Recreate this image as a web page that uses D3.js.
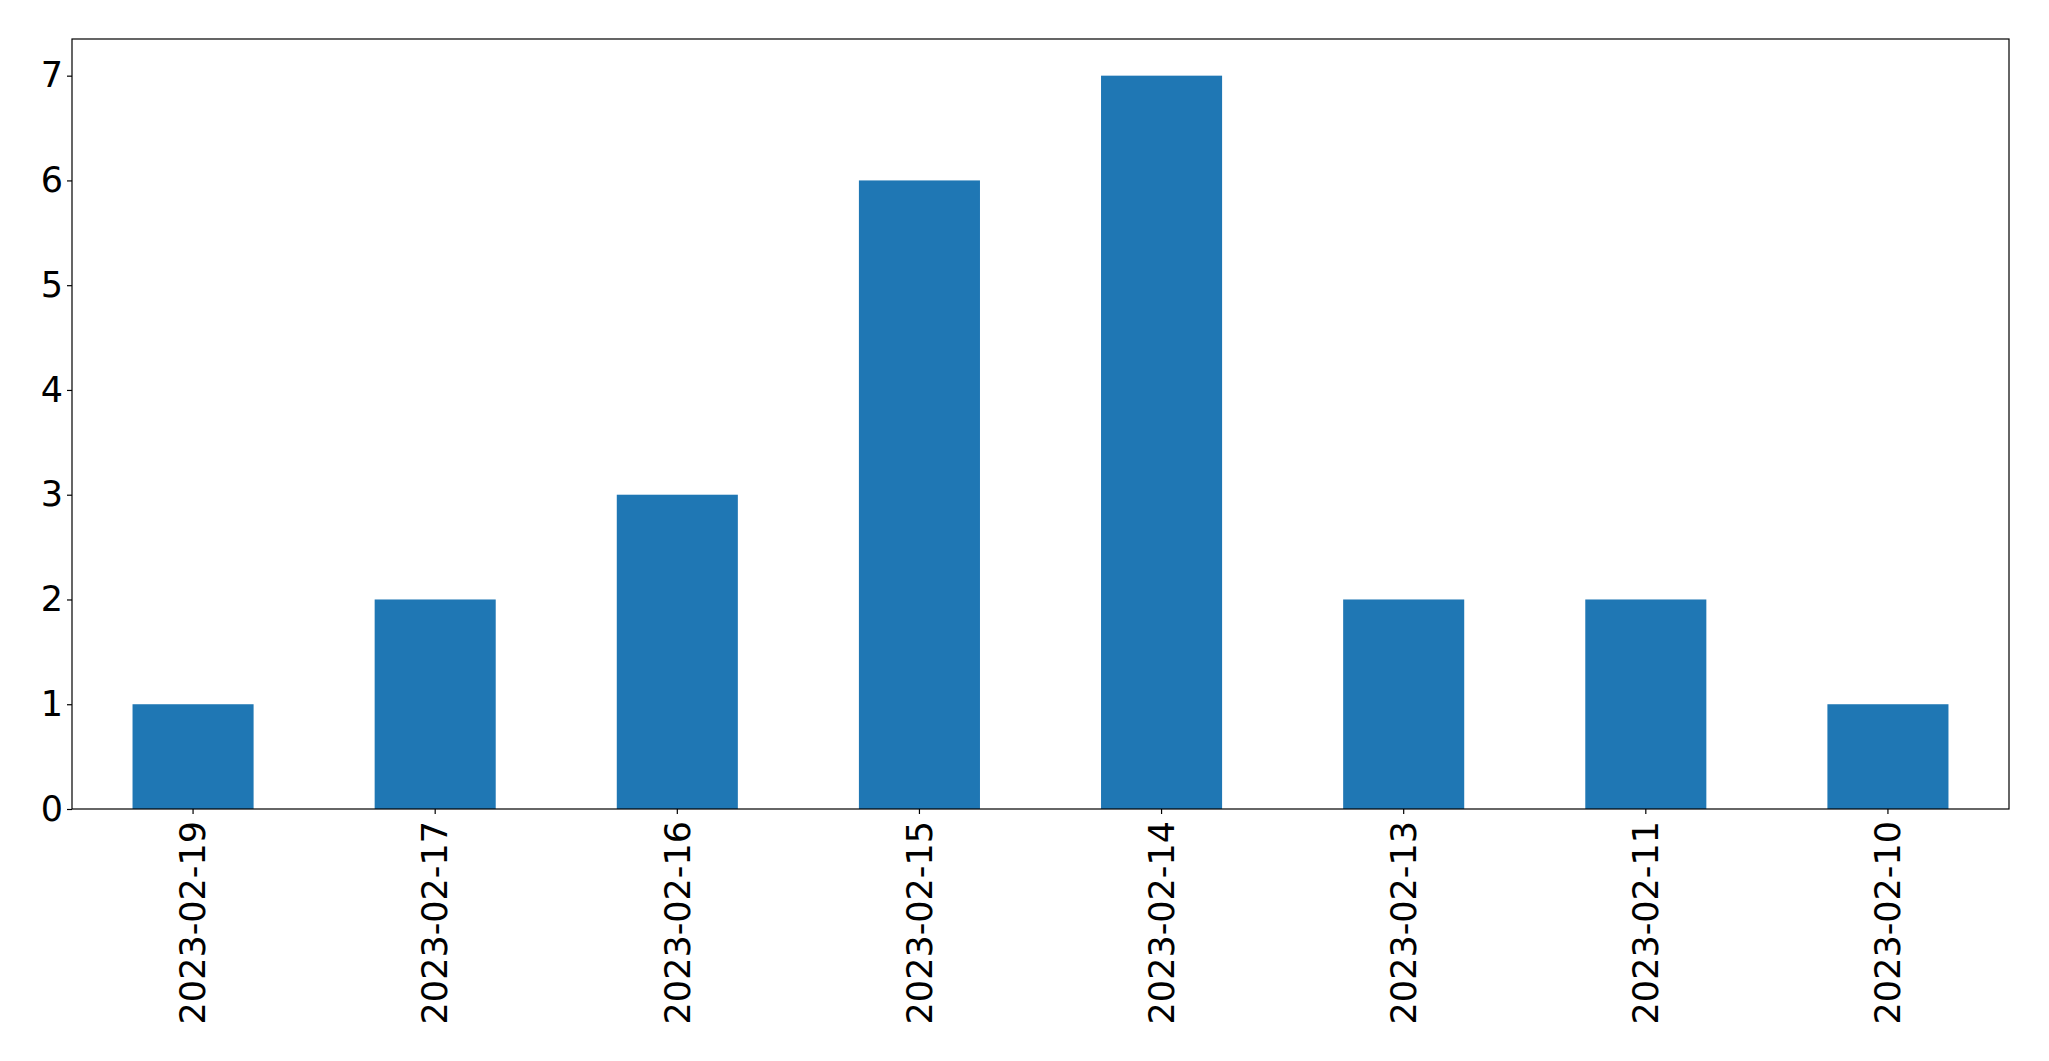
<!DOCTYPE html>
<html><head><meta charset="utf-8">
<script src="https://cdn.jsdelivr.net/npm/d3@7"></script>
<style>body{margin:0;background:#fff;} svg{display:block;}</style>
</head><body>
<svg id="c" width="2049" height="1061"></svg>
<script>
const categories = ["2023-02-19","2023-02-17","2023-02-16","2023-02-15","2023-02-14","2023-02-13","2023-02-11","2023-02-10"];
const values = [1,2,3,6,7,2,2,1];
const yTicks = [0,1,2,3,4,5,6,7];

const W = 2049, H = 1061;
const m = {left:72, right:2009, top:39, bottom:809};
const svg = d3.select("#c");
const font = "DejaVu Sans";
const fs = 35;

const x = d3.scaleBand().domain(categories).range([m.left, m.right]).paddingInner(0.5).paddingOuter(0.25);
const ymax = d3.max(values) * 1.05;
const y = d3.scaleLinear().domain([0, ymax]).range([m.bottom, m.top]);

svg.append("g").selectAll("rect").data(values).join("rect")
  .attr("x", (d,i) => x(categories[i]))
  .attr("width", x.bandwidth())
  .attr("y", d => y(d))
  .attr("height", d => y(0) - y(d))
  .attr("fill", "#1f77b4");

const yAxis = svg.append("g").attr("transform", `translate(${m.left},0)`)
  .call(d3.axisLeft(y).tickValues(yTicks).tickFormat(d3.format("d")).tickSize(5).tickPadding(4));
yAxis.select(".domain").remove();
yAxis.selectAll("text").attr("font-family", font).attr("font-size", fs).attr("fill", "#000");
yAxis.selectAll("line").attr("stroke", "#000").attr("stroke-width", 1.2);

const xAxis = svg.append("g").attr("transform", `translate(0,${m.bottom})`)
  .call(d3.axisBottom(x).tickSize(5).tickPadding(7));
xAxis.select(".domain").remove();
xAxis.selectAll("line").attr("stroke", "#000").attr("stroke-width", 1.2);
xAxis.selectAll("text")
  .attr("font-family", font).attr("font-size", fs).attr("fill", "#000")
  .attr("transform", "rotate(-90)")
  .attr("text-anchor", "end")
  .attr("x", -12).attr("y", 0).attr("dy", "0.35em");

svg.append("rect").attr("x", m.left).attr("y", m.top)
  .attr("width", m.right - m.left).attr("height", m.bottom - m.top)
  .attr("fill", "none").attr("stroke", "#000").attr("stroke-width", 1.2);
</script>
</body></html>
